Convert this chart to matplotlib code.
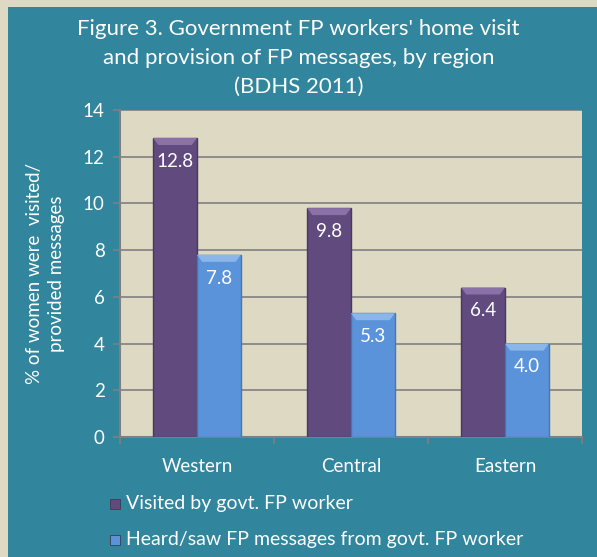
import numpy as np
import matplotlib.pyplot as plt
from matplotlib.patches import Rectangle

regions = ["Western", "Central", "Eastern"]
visited = [12.8, 9.8, 6.4]
heard = [7.8, 5.3, 4.0]
series_names = ["Visited by govt. FP worker",
                "Heard/saw FP messages from govt. FP worker"]
title = "Figure 3. Government FP workers' home visit\nand provision of FP messages, by region\n(BDHS 2011)"
ylabel = "% of women were  visited/\nprovided messages"

teal = "#31859c"
beige = "#ddd9c3"
purple = "#614a7d"
blue = "#5a93d9"
grid = "#808080"

plt.rcParams['font.family'] = ['Lato', 'DejaVu Sans']

fig = plt.figure(figsize=(5.97, 5.57), dpi=100)
fig.patch.set_facecolor(beige)
fig.patches.append(Rectangle((8 / 597, 0), 1, 550 / 557, transform=fig.transFigure,
                             facecolor=teal, edgecolor='none', zorder=-5))

ax = fig.add_axes([120 / 597, 120 / 557, 462 / 597, 327 / 557])
ax.set_facecolor(beige)

x = np.arange(len(regions))
w = 0.285
b1 = ax.bar(x - w / 2, visited, w, color=purple, edgecolor="#4a3860", linewidth=1, zorder=3)
b2 = ax.bar(x + w / 2, heard, w, color=blue, edgecolor="#4677b5", linewidth=1, zorder=3)

# light bevel strip at the top of each bar
for bars, vals, hl in ((b1, visited, "#8a72a8"), (b2, heard, "#8ab6ea")):
    for r, v in zip(bars, vals):
        x0 = r.get_x()
        ax.fill([x0, x0 + w, x0 + w * 0.88, x0 + w * 0.12], [v, v, v - 0.3, v - 0.3],
                color=hl, zorder=3.5, linewidth=0)
        ax.text(x0 + w / 2, v - 1.0, f"{v:.1f}", ha='center', va='center',
                color='white', fontsize=13.5, zorder=4)

ax.set_xlim(-0.5, 2.5)
ax.set_ylim(0, 14)
ax.set_yticks(range(0, 15, 2))
ax.yaxis.grid(True, color=grid, linewidth=1.2, zorder=1)
ax.set_xticks(x)
ax.set_xticklabels(regions)
ax.set_xticks([-0.5, 0.5, 1.5, 2.5], minor=True)
ax.tick_params(axis='x', which='major', length=0, pad=15, labelsize=13.5, labelcolor='white')
ax.tick_params(axis='x', which='minor', length=5, color=grid, width=1.2)
ax.tick_params(axis='y', length=5, color=grid, width=1.2, labelsize=13.5, labelcolor='white', pad=6)
for s in ['top', 'right']:
    ax.spines[s].set_visible(False)
for s in ['left', 'bottom']:
    ax.spines[s].set_color(grid)
    ax.spines[s].set_linewidth(1.5)

ax.set_ylabel(ylabel, color='white', fontsize=13.5, labelpad=13, linespacing=1.35)

fig.text(0.5, 1 - 58 / 557, title, ha='center', va='center', color='white',
         fontsize=16, linespacing=1.55)

# legend
for i, (name, col) in enumerate(zip(series_names, [purple, blue])):
    yy = 1 - (504 + i * 36) / 557
    fig.patches.append(Rectangle((110 / 597, yy - 5 / 557), 10 / 597, 10 / 557,
                                 transform=fig.transFigure, facecolor=col,
                                 edgecolor='#3c3c50', linewidth=0.6, zorder=3))
    fig.text(126 / 597, yy, name, ha='left', va='center', color='white', fontsize=14)

fig.savefig("out.png", dpi=100, facecolor=fig.get_facecolor())
